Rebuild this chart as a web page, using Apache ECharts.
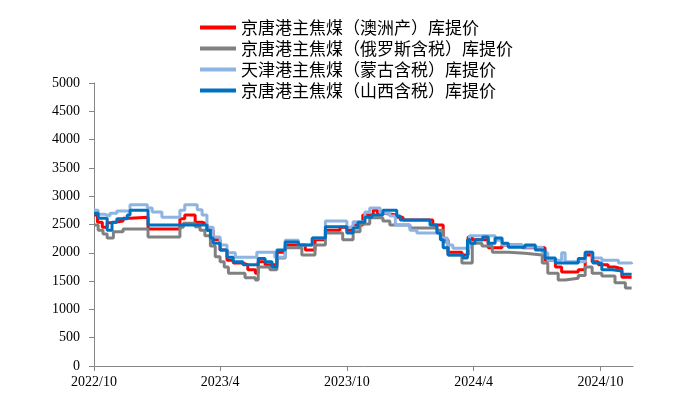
<!DOCTYPE html>
<html>
<head>
<meta charset="utf-8">
<script src="https://cdn.jsdelivr.net/npm/echarts@6/dist/echarts.min.js"></script>
<style>
  html, body { margin: 0; padding: 0; background: #fff; }
  #chart { width: 697px; height: 409px; }
</style>
</head>
<body>
<div id="chart"></div>
<script>
// 库提价（元/吨），每个点表示从该日期起的价格
var names = [
  '京唐港主焦煤（澳洲产）库提价',
  '京唐港主焦煤（俄罗斯含税）库提价',
  '天津港主焦煤（蒙古含税）库提价',
  '京唐港主焦煤（山西含税）库提价'
];
var tickLabels = ['2022/10', '2023/4', '2023/10', '2024/4', '2024/10'];
var xStart = '2022-10-01';
var xEnd = '2024-11-17';

var auPrice = [
  ['2022-10-01',2670],['2022-10-06',2540],['2022-10-13',2450],['2022-10-20',2530],['2022-10-27',2560],
  ['2022-11-12',2610],['2022-11-22',2630],['2022-12-18',2420],['2023-02-02',2600],['2023-02-09',2670],
  ['2023-02-24',2540],['2023-03-06',2510],['2023-03-13',2400],['2023-03-22',2230],['2023-04-01',2050],
  ['2023-04-11',1870],['2023-04-20',1820],['2023-05-03',1790],['2023-05-11',1700],['2023-05-22',1640],
  ['2023-05-26',1840],['2023-06-05',1790],['2023-06-22',2010],['2023-07-04',2140],['2023-08-02',2050],
  ['2023-08-16',2230],['2023-08-31',2400],['2023-09-21',2450],['2023-10-01',2400],['2023-10-10',2490],
  ['2023-10-24',2670],['2023-11-08',2750],['2023-11-14',2700],['2023-11-22',2670],['2023-12-12',2630],
  ['2023-12-21',2580],['2024-02-02',2490],['2024-02-17',2230],['2024-02-24',2010],['2024-03-15',1960],
  ['2024-03-24',2280],['2024-03-30',2230],['2024-04-22',2090],['2024-05-12',2140],['2024-06-10',2090],
  ['2024-07-13',1870],['2024-07-28',1750],['2024-08-06',1660],['2024-08-30',1700],['2024-09-09',1960],
  ['2024-09-19',1840],['2024-09-28',1790],['2024-10-12',1750],['2024-10-22',1720],['2024-11-01',1570],
  ['2024-11-15',1570]
];

var ruPrice = [
  ['2022-10-01',2490],['2022-10-07',2400],['2022-10-14',2330],['2022-10-20',2260],['2022-10-29',2370],
  ['2022-11-12',2420],['2022-12-18',2280],['2023-02-02',2450],['2023-02-07',2520],['2023-02-24',2460],
  ['2023-03-03',2400],['2023-03-10',2300],['2023-03-18',2120],['2023-03-25',1930],['2023-04-01',1840],
  ['2023-04-07',1750],['2023-04-13',1640],['2023-05-07',1560],['2023-05-22',1520],['2023-05-26',1750],
  ['2023-06-12',1700],['2023-06-22',1910],['2023-07-04',2090],['2023-07-28',1960],['2023-08-16',2140],
  ['2023-08-31',2350],['2023-09-25',2230],['2023-10-10',2370],['2023-10-20',2510],['2023-11-03',2620],
  ['2023-11-22',2560],['2023-12-02',2490],['2023-12-31',2440],['2024-02-08',2400],['2024-02-17',2190],
  ['2024-02-24',1960],['2024-03-15',1820],['2024-03-30',2170],['2024-04-13',2120],['2024-04-28',2010],
  ['2024-05-21',1990],['2024-06-14',1960],['2024-07-09',1820],['2024-07-17',1640],['2024-08-01',1520],
  ['2024-08-11',1550],['2024-08-30',1600],['2024-09-09',1750],['2024-09-19',1640],['2024-10-03',1590],
  ['2024-10-22',1470],['2024-11-06',1380],['2024-11-15',1380]
];

var mnPrice = [
  ['2022-10-01',2750],['2022-10-07',2680],['2022-10-17',2650],['2022-10-24',2700],['2022-11-03',2740],
  ['2022-11-22',2850],['2022-12-17',2790],['2022-12-24',2720],['2023-01-07',2630],['2023-02-02',2750],
  ['2023-02-09',2850],['2023-02-27',2760],['2023-03-06',2670],['2023-03-13',2450],['2023-03-22',2280],
  ['2023-04-01',2140],['2023-04-11',2000],['2023-04-23',1920],['2023-05-24',2010],['2023-06-19',1920],
  ['2023-07-04',2220],['2023-07-23',2140],['2023-08-12',2260],['2023-08-31',2560],['2023-10-01',2450],
  ['2023-10-10',2550],['2023-10-27',2720],['2023-11-03',2790],['2023-11-18',2700],['2023-12-02',2650],
  ['2023-12-10',2490],['2023-12-31',2400],['2024-01-10',2350],['2024-02-13',2260],['2024-02-23',2140],
  ['2024-03-02',2080],['2024-03-26',2300],['2024-05-02',2220],['2024-05-12',2140],['2024-06-10',2100],
  ['2024-07-09',2000],['2024-07-17',1870],['2024-08-06',2000],['2024-08-11',1840],['2024-09-09',2010],
  ['2024-09-19',1910],['2024-10-03',1870],['2024-10-27',1820],['2024-11-15',1800]
];

var sxPrice = [
  ['2022-10-01',2700],['2022-10-07',2610],['2022-10-20',2400],['2022-10-27',2540],['2022-11-03',2600],
  ['2022-11-18',2670],['2022-11-22',2750],['2022-12-18',2490],['2023-03-13',2400],['2023-03-18',2260],
  ['2023-03-22',2170],['2023-04-01',2050],['2023-04-11',1920],['2023-04-20',1840],['2023-05-04',1790],
  ['2023-05-26',1900],['2023-06-05',1840],['2023-06-15',1750],['2023-06-22',2050],['2023-07-04',2190],
  ['2023-07-23',2140],['2023-08-12',2260],['2023-08-31',2460],['2023-10-01',2350],['2023-10-10',2440],
  ['2023-10-17',2540],['2023-10-27',2630],['2023-11-06',2670],['2023-11-22',2750],['2023-12-12',2650],
  ['2023-12-17',2580],['2024-01-29',2490],['2024-02-08',2350],['2024-02-13',2230],['2024-02-17',2090],
  ['2024-02-24',1960],['2024-03-17',1910],['2024-03-23',2230],['2024-03-27',2170],['2024-04-03',2230],
  ['2024-04-14',2280],['2024-04-22',2170],['2024-05-02',2260],['2024-05-12',2170],['2024-05-21',2100],
  ['2024-06-14',2140],['2024-06-29',2050],['2024-07-13',1910],['2024-07-28',1820],['2024-08-30',1900],
  ['2024-09-09',2010],['2024-09-20',1820],['2024-10-03',1700],['2024-10-18',1680],['2024-11-01',1620],
  ['2024-11-15',1620]
];

var colors = ['#ff0000', '#808080', '#8db4e2', '#0070c0'];

function dayTime(s) {
  var p = s.split('-');
  return Date.UTC(+p[0], +p[1] - 1, +p[2]);
}
function labelTime(s) {
  var p = s.split('/');
  return Date.UTC(+p[0], +p[1] - 1, 1);
}
var tickTimes = tickLabels.map(labelTime);

var chart = echarts.init(document.getElementById('chart'));
var serif = '"Liberation Serif", "Times New Roman", serif';

function makeSeries(i, data) {
  return {
    name: names[i],
    type: 'line',
    step: 'end',
    showSymbol: false,
    data: data.map(function (d) { return [dayTime(d[0]), d[1]]; }),
    lineStyle: { color: colors[i], width: 3 },
    itemStyle: { color: colors[i] }
  };
}

chart.setOption({
  animation: false,
  backgroundColor: '#fff',
  color: colors,
  legend: {
    orient: 'vertical',
    left: 195,
    top: 14,
    itemWidth: 36,
    itemHeight: 4,
    itemGap: 4,
    icon: 'rect',
    textStyle: {
      fontFamily: '"Noto Sans CJK SC", sans-serif',
      fontSize: 17,
      lineHeight: 17,
      color: '#000'
    },
    data: names
  },
  grid: {
    left: 94,
    right: 64,
    top: 83,
    bottom: 43,
    containLabel: false
  },
  xAxis: {
    type: 'value',
    min: dayTime(xStart),
    max: dayTime(xEnd),
    axisLine: { lineStyle: { color: '#868686', width: 1 } },
    axisTick: { show: true, customValues: tickTimes, length: 5, lineStyle: { color: '#868686' } },
    axisLabel: {
      customValues: tickTimes,
      color: '#000',
      fontFamily: serif,
      fontSize: 14,
      margin: 9,
      formatter: function (v) {
        return tickLabels[tickTimes.indexOf(v)] || '';
      }
    },
    splitLine: { show: false }
  },
  yAxis: {
    type: 'value',
    min: 0,
    max: 5000,
    interval: 500,
    axisLine: { show: true, lineStyle: { color: '#868686', width: 1 } },
    axisTick: { show: true, length: 5, lineStyle: { color: '#868686' } },
    axisLabel: {
      color: '#000',
      fontFamily: serif,
      fontSize: 14,
      margin: 14,
      formatter: function (v) { return String(v); }
    },
    splitLine: { show: false }
  },
  series: [
    makeSeries(0, auPrice),
    makeSeries(1, ruPrice),
    makeSeries(2, mnPrice),
    makeSeries(3, sxPrice)
  ]
});
</script>
</body>
</html>
